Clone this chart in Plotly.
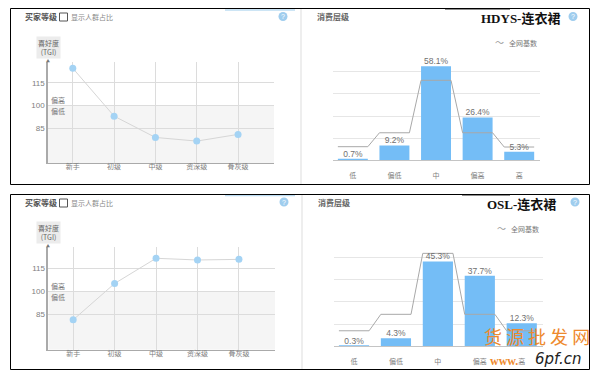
import plotly.graph_objects as go

W, H = 600, 381

level_labels = ["新手", "初级", "中级", "资深级", "骨灰级"]
tgi_ticks = [85, 100, 115]
tgi_top = [124.5, 93, 79, 76.6, 81]
tgi_bottom = [81.5, 105, 121.3, 120.2, 120.6]

spend_labels = ["低", "偏低", "中", "偏高", "高"]
spend_top = [0.7, 9.2, 58.1, 26.4, 5.3]
spend_bottom = [0.3, 4.3, 45.3, 37.7, 12.3]
base_top = [8.4, 17, 49.4, 17, 8.2]
base_bottom = [8.3, 17.1, 49.7, 17.1, 8.3]

CJK = "Noto Sans CJK SC"
GREY = "#808080"


def fx(x):
    return x / W


def fy(y):
    return 1 - y / H


fig = go.Figure()
shapes, notes = [], []


def note(x, y, text, size=9, color=GREY, font=CJK, anchor="center", **kw):
    notes.append(dict(x=fx(x), y=fy(y), xref="paper", yref="paper", text=text,
                      showarrow=False, xanchor=anchor, yanchor="middle",
                      font=dict(size=size, color=color, family=font), **kw))


def rect(x0, y0, x1, y1, line="#000", width=1, fill=None, kind="rect"):
    shapes.append(dict(type=kind, xref="paper", yref="paper",
                       x0=fx(x0), x1=fx(x1), y0=fy(y0), y1=fy(y1),
                       line=dict(color=line, width=width),
                       fillcolor=fill, layer="above"))


def line_panel(n, vals, box, dy):
    x0, x1, ytop, ybot = box
    sfx = str(n)
    fig.add_trace(go.Scatter(
        x=list(range(5)), y=vals, mode="lines+markers", xaxis="x" + sfx, yaxis="y" + sfx,
        line=dict(color="#d6d6d6", width=1),
        marker=dict(color="#a4d3f4", size=7), showlegend=False, cliponaxis=False))
    fig.layout["xaxis" + sfx] = dict(
        domain=[fx(x0), fx(x1)], anchor="y" + sfx, range=[-0.6, 4.87],
        tickmode="array", tickvals=list(range(5)), ticktext=level_labels,
        tickfont=dict(size=7, color=GREY, family=CJK), ticklen=0, ticklabelstandoff=-3,
        showgrid=True, gridcolor="#dcdcdc", gridwidth=1,
        showline=True, linecolor="#aaaaaa", linewidth=1, zeroline=False)
    fig.layout["yaxis" + sfx] = dict(
        domain=[fy(ybot), fy(ytop)], anchor="x" + sfx, range=[62.2, 128.6],
        tickmode="array", tickvals=tgi_ticks,
        tickfont=dict(size=8, color=GREY, family="Liberation Sans"), ticklen=0,
        showgrid=True, gridcolor="#dcdcdc", gridwidth=1,
        showline=True, linecolor="#aaaaaa", linewidth=1.5, zeroline=False)
    shapes.append(dict(type="rect", xref="x" + sfx, yref="y" + sfx, x0=-0.6, x1=4.87,
                       y0=62.2, y1=100, fillcolor="#f5f5f5", line=dict(width=0),
                       layer="below"))
    # header
    note(23, 16 + dy, "<b>买家等级</b>", size=8, color="#555555", anchor="left")
    rect(59.5, 13 + dy, 67.5, 21 + dy, line="#555555", width=1)
    note(68.5, 17 + dy, "显示人群占比", size=7, color="#8a8a8a", anchor="left")
    # TGI badge
    notes.append(dict(x=fx(48), y=fy(47 + dy), xref="paper", yref="paper",
                      text="喜好度<br>(TGI)", showarrow=False, bgcolor="#ececec",
                      borderpad=1, align="center", xanchor="center", yanchor="middle",
                      font=dict(size=7, color="#666666", family=CJK)))
    note(48, ytop - 1, "▲", size=4, color="#777777")
    note(49, 100 + dy, "偏高", size=7, color="#777777", anchor="left")
    note(49, 110.5 + dy, "偏低", size=7, color="#777777", anchor="left")


def bar_panel(n, vals, base, box, step):
    x0, x1, ytop, ybot = box
    sfx = str(n)
    half = 0.36
    xs = []
    ys = []
    for i, b in enumerate(base):
        xs += [i - half, i + half]
        ys += [b, b]
    fig.add_trace(go.Bar(
        x=list(range(5)), y=vals, width=0.72, xaxis="x" + sfx, yaxis="y" + sfx,
        marker=dict(color="#74bdf6", line=dict(width=0)), showlegend=False))
    fig.add_trace(go.Scatter(
        x=xs, y=ys, mode="lines", xaxis="x" + sfx, yaxis="y" + sfx,
        line=dict(color="#a8a8a8", width=1), showlegend=False))
    fig.add_trace(go.Scatter(
        x=list(range(5)), y=vals, mode="text", xaxis="x" + sfx, yaxis="y" + sfx,
        text=[f"{v}%" for v in vals], textposition="top center", cliponaxis=False,
        textfont=dict(size=8.5, color="#707070", family="Liberation Sans"), showlegend=False))
    fig.layout["xaxis" + sfx] = dict(
        domain=[fx(x0), fx(x1)], anchor="y" + sfx, range=[-0.47, 4.5],
        tickmode="array", tickvals=list(range(5)), ticktext=spend_labels,
        tickfont=dict(size=7, color=GREY, family=CJK),
        ticks="outside", ticklen=8, tickcolor="rgba(0,0,0,0)",
        showgrid=False, showline=True, linecolor="#c4c4c4", linewidth=1, zeroline=False)
    fig.layout["yaxis" + sfx] = dict(
        domain=[fy(ybot), fy(ytop)], anchor="x" + sfx, range=[0, 5 * step],
        dtick=step, tick0=0, showticklabels=False, ticklen=0,
        showgrid=True, gridcolor="#e6e6e6", gridwidth=1, zeroline=False)


line_panel(1, tgi_top, (48, 274, 62, 163), 0)
line_panel(2, tgi_bottom, (48.3, 275, 57 + 190, 349.7), 190 - 4)
bar_panel(3, spend_top, base_top, (333.3, 540, 49.7, 160.3), 13.66)
bar_panel(4, spend_bottom, base_bottom, (334.3, 542.7, 235.3, 346.3), 11.87)

# right-hand headers
note(315, 17, "<b>消费层级</b>", size=8, color="#666666", anchor="left")
note(316, 202.5, "<b>消费层级</b>", size=8, color="#666666", anchor="left")
note(520, 18, "<b>HDYS-连衣裙</b>", size=13, color="#111111", font="Liberation Serif, " + CJK)
note(521, 204, "<b>OSL-连衣裙</b>", size=13, color="#111111", font="Liberation Serif, " + CJK)

# series key
for x, y in [(507, 43), (509, 228.5)]:
    note(x, y, "全网基数", size=7, color="#777777", anchor="left")
    note(x - 8, y, "〜", size=9, color="#999999")

# help icons
for cx, cy in [(283, 16.5), (573, 16.5), (284, 202), (575, 202)]:
    rect(cx - 4.5, cy - 4.5, cx + 4.5, cy + 4.5, line="#9fcdee", width=0, fill="#9fcdee", kind="circle")
    note(cx, cy, "?", size=7, color="#ffffff", font="Liberation Sans")

# fragments cut by the frames
for y in (10, 195.5):
    rect(225, y, 295, y, line="#bcdcf2", width=1.5, kind="line")
for x0, y in [(445, 9.3), (462, 195.2)]:
    rect(x0, y, 510, y, line="#8f8f8f", width=1.5, kind="line")

# panel separators
rect(301, 9, 301, 184, line="#dddddd", width=1, kind="line")
rect(302, 195, 302, 369, line="#dddddd", width=1, kind="line")

# frames
rect(10.5, 8.5, 589.5, 184.5)
rect(10.5, 194.5, 589.5, 369.5)

# watermark
note(537, 336, "货 源 批 发 网", size=18, color="#ee8a2e", font=CJK)
note(504, 361, "<b>www.</b>", size=12, color="#ee8a2e", font="Liberation Serif")
note(558, 359, "<i>6pf.cn</i>", size=15, color="#222222", font="DejaVu Sans")

fig.update_layout(width=W, height=H, margin=dict(l=0, r=0, t=0, b=0),
                  paper_bgcolor="#ffffff", plot_bgcolor="rgba(0,0,0,0)",
                  shapes=shapes, annotations=notes, barmode="overlay")
fig.write_html("out.html", config=dict(displayModeBar=False),
               post_script="document.body.style.margin='0';document.body.style.overflow='hidden';")
